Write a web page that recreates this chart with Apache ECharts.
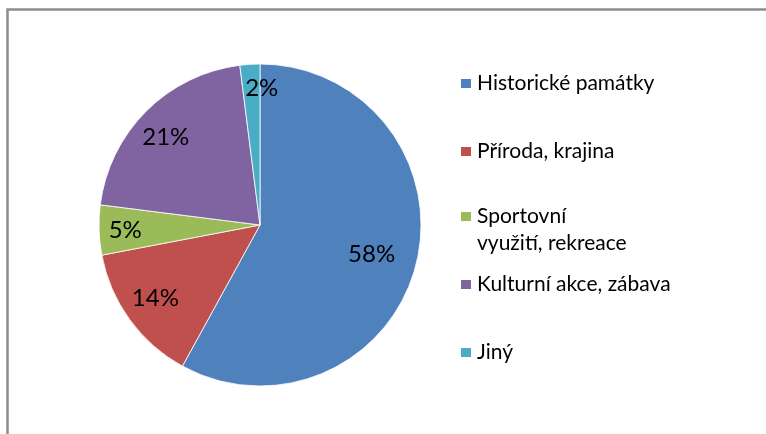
<!DOCTYPE html>
<html>
<head>
<meta charset="utf-8">
<script src="https://cdn.jsdelivr.net/npm/echarts@6/dist/echarts.min.js"></script>
<style>
  html, body { margin: 0; padding: 0; background: #fff; }
  #chart { width: 766px; height: 434px; }
</style>
</head>
<body>
<div id="chart"></div>
<script>
// Motivation for visiting: share of respondents
const categories = ['Historické památky', 'Příroda, krajina', 'Sportovní\nvyužití, rekreace', 'Kulturní akce, zábava', 'Jiný'];
const shares = [58, 14, 5, 21, 2];
const colors = ['#4F81BD', '#C0504D', '#9BBB59', '#8064A2', '#4BACC6'];

const FONT = 'Lato, "Open Sans", sans-serif';
const center = [260, 225];
const R = 161;

// layout: vertical centre of each legend marker, small nudges for crowded labels
const markerCenters = [83.5, 151.5, 216.5, 284.5, 352.5];
const labelNudges = [[-16, -4], [2, -4], [-3, 1], [-1, 5], [10, -5]];
const LINE_H = 27;

const pieData = categories.map((name, i) => ({
  name: name,
  value: shares[i],
  itemStyle: { color: colors[i] }
}));

// one legend per entry; a two-line entry gets an empty leading line so the
// marker sits beside its first text line
const legends = categories.map((name, i) => {
  const lines = name.split('\n').length;
  const shown = lines > 1 ? 2 * lines - 1 : 1; // rows in the text block
  const blockH = shown * LINE_H;
  return {
    orient: 'vertical',
    left: 459,
    top: markerCenters[i] - blockH / 2,
    padding: 0,
    itemWidth: 12,
    itemHeight: 11,
    itemGap: 0,
    icon: 'rect',
    selectedMode: false,
    formatter: n => (lines > 1 ? '\n'.repeat(lines - 1) + n : n),
    textStyle: { fontFamily: FONT, fontSize: 21, color: '#000', lineHeight: LINE_H },
    data: [name]
  };
});

const chart = echarts.init(document.getElementById('chart'), null, { renderer: 'canvas' });
chart.setOption({
  animation: false,
  backgroundColor: '#fff',
  color: colors,
  legend: legends,
  series: [
    {
      // visible slices
      type: 'pie',
      center: center,
      radius: [0, R],
      startAngle: 90,
      clockwise: true,
      data: pieData,
      itemStyle: { borderColor: '#fff', borderWidth: 0.8 },
      label: { show: false },
      labelLine: { show: false },
      emphasis: { disabled: true }
    },
    {
      // transparent ring carrying the percentage labels near the rim
      type: 'pie',
      center: center,
      radius: [R * 0.6, R],
      startAngle: 90,
      clockwise: true,
      silent: true,
      legendHoverLink: false,
      data: pieData.map((d, i) => ({
        name: d.name,
        value: d.value,
        itemStyle: { color: 'rgba(0,0,0,0)' },
        label: { offset: labelNudges[i] }
      })),
      itemStyle: { borderWidth: 0 },
      label: {
        show: true,
        position: 'inside',
        formatter: p => p.value + '%',
        fontFamily: FONT,
        fontSize: 24,
        color: '#000'
      },
      labelLine: { show: false },
      emphasis: { disabled: true }
    }
  ],
  graphic: [
    {
      type: 'polyline',
      shape: { points: [[7.5, 434], [7.5, 9.5], [766, 9.5]] },
      style: { stroke: '#8c8c8c', lineWidth: 2.5, fill: null },
      silent: true
    }
  ]
});
</script>
</body>
</html>
